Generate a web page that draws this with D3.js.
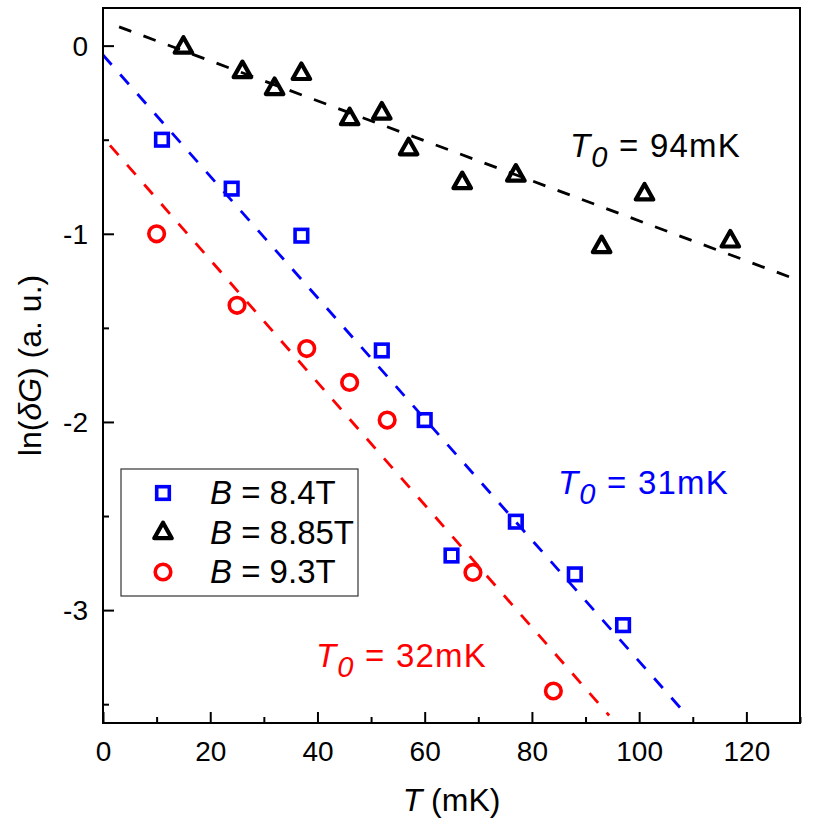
<!DOCTYPE html>
<html>
<head>
<meta charset="utf-8">
<script src="https://cdn.jsdelivr.net/npm/d3@7"></script>
<style>
  html, body { margin: 0; padding: 0; background: #fff; }
  svg { display: block; font-family: "Liberation Sans", Arial, sans-serif; }
</style>
</head>
<body>
<svg id="chart" width="830" height="830"></svg>
<script>
// ---- data ----
const tempSquare = [11, 24, 37, 52, 60, 65, 77, 88, 97];
const lnSquare   = [-0.50, -0.76, -1.01, -1.62, -1.99, -2.71, -2.53, -2.81, -3.08];

const tempTriangle = [15, 26, 32, 37, 46, 52, 57, 67, 77, 93, 101, 117];
const lnTriangle   = [-0.01, -0.14, -0.23, -0.15, -0.39, -0.36, -0.55, -0.73, -0.69, -1.07, -0.79, -1.04];

const tempCircle = [10, 25, 38, 46, 53, 69, 84];
const lnCircle   = [-1.00, -1.38, -1.61, -1.79, -1.99, -2.80, -3.43];

// fit lines: [T start, ln start, T end, ln end]
const fitSquare   = [0, -0.05, 108, -3.53];
const fitTriangle = [3, 0.10, 130, -1.25];
const fitCircle   = [1.3, -0.53, 94.4, -3.56];

const legendLabels = ["8.4T", "8.85T", "9.3T"];
const t0Labels = ["31mK", "94mK", "32mK"];

const xTicks = [0, 20, 40, 60, 80, 100, 120];
const yTicks = [0, -1, -2, -3];

// ---- layout ----
const svg = d3.select("#chart");
const L = 103, R = 800, T = 8, B = 723;
const x = d3.scaleLinear().domain([0, 130]).range([L, R]);
const y = d3.scaleLinear().domain([-3.6, 0.2]).range([B, T]);

const series = [
  { name: "square",   color: "#0000ff", xs: tempSquare,   ys: lnSquare,   fit: fitSquare },
  { name: "triangle", color: "#000000", xs: tempTriangle, ys: lnTriangle, fit: fitTriangle },
  { name: "circle",   color: "#ff0000", xs: tempCircle,   ys: lnCircle,   fit: fitCircle }
];

// fit lines
const line = d3.line().x(d => x(d[0])).y(d => y(d[1]));
series.forEach(s => {
  svg.append("path")
    .attr("d", line([[s.fit[0], s.fit[1]], [s.fit[2], s.fit[3]]]))
    .attr("fill", "none")
    .attr("stroke", s.color)
    .attr("stroke-width", 2.8)
    .attr("stroke-dasharray", "13,13");
});

// markers
function drawMarker(g, type, cx, cy, color) {
  if (type === "square") {
    g.append("rect").attr("x", cx - 6.3).attr("y", cy - 6.3).attr("width", 12.6).attr("height", 12.6)
      .attr("fill", "none").attr("stroke", color).attr("stroke-width", 3.6);
  } else if (type === "circle") {
    g.append("circle").attr("cx", cx).attr("cy", cy).attr("r", 7.8)
      .attr("fill", "none").attr("stroke", color).attr("stroke-width", 3.6);
  } else {
    const h = 15.5, w = 17.5;
    const p = `M${cx},${cy - 2 * h / 3} L${cx + w / 2},${cy + h / 3} L${cx - w / 2},${cy + h / 3} Z`;
    g.append("path").attr("d", p).attr("fill", "none").attr("stroke", color)
      .attr("stroke-width", 4.2).attr("stroke-linejoin", "round");
  }
}
const marks = svg.append("g");
series.forEach(s => {
  s.xs.forEach((t, i) => drawMarker(marks, s.name, x(t), y(s.ys[i]), s.color));
});

// axes frame
svg.append("rect").attr("x", L).attr("y", T).attr("width", R - L).attr("height", B - T)
  .attr("fill", "none").attr("stroke", "#000").attr("stroke-width", 2);

// x axis ticks (inward)
const xAxis = d3.axisBottom(x).tickValues(xTicks).tickSize(-11).tickFormat(d3.format("d"));
const gx = svg.append("g").attr("transform", `translate(0,${B})`).call(xAxis);
gx.select(".domain").remove();
gx.selectAll("line").attr("stroke-width", 2);
gx.selectAll("text").attr("font-size", 28).attr("fill", "#000").attr("dy", 0).attr("y", 38);
const xMinor = d3.axisBottom(x).tickValues(d3.range(10, 131, 20)).tickSize(-6).tickFormat("");
const gxm = svg.append("g").attr("transform", `translate(0,${B})`).call(xMinor);
gxm.select(".domain").remove();
gxm.selectAll("line").attr("stroke-width", 2);

const yAxis = d3.axisLeft(y).tickValues(yTicks).tickSize(-11).tickFormat(d => d === 0 ? "0" : String(d).replace("\u2212", "-"));
const gy = svg.append("g").attr("transform", `translate(${L},0)`).call(yAxis);
gy.select(".domain").remove();
gy.selectAll("line").attr("stroke-width", 2);
gy.selectAll("text").attr("font-size", 28).attr("fill", "#000").attr("dy", "0.35em").attr("x", -15);
const yMinor = d3.axisLeft(y).tickValues([-0.5, -1.5, -2.5, -3.5]).tickSize(-6).tickFormat("");
const gym = svg.append("g").attr("transform", `translate(${L},0)`).call(yMinor);
gym.select(".domain").remove();
gym.selectAll("line").attr("stroke-width", 2);

// axis titles
const xt = svg.append("text").attr("x", (L + R) / 2).attr("y", 811).attr("text-anchor", "middle")
  .attr("font-size", 32).attr("fill", "#000");
xt.append("tspan").attr("font-style", "italic").text("T");
xt.append("tspan").text(" (mK)");

const yt = svg.append("text").attr("transform", `translate(41,${(T + B) / 2}) rotate(-90)`)
  .attr("text-anchor", "middle").attr("font-size", 32).attr("fill", "#000");
yt.append("tspan").text("ln(");
yt.append("tspan").attr("font-style", "italic").text("\u03B4G");
yt.append("tspan").text(") (a. u.)");

// T0 annotations
function t0(xp, yp, color, label) {
  const t = svg.append("text").attr("x", xp).attr("y", yp).attr("font-size", 33)
    .attr("letter-spacing", 1.2).attr("fill", color);
  t.append("tspan").attr("font-style", "italic").text("T");
  t.append("tspan").attr("font-style", "italic").attr("font-size", 29).attr("dy", 10).text("0");
  t.append("tspan").attr("dy", -10).text(" = " + label);
}
t0(570, 157, "#000000", t0Labels[1]);
t0(558, 494, "#0000ff", t0Labels[0]);
t0(316, 667, "#ff0000", t0Labels[2]);

// legend
svg.append("rect").attr("x", 121).attr("y", 469).attr("width", 237).attr("height", 127)
  .attr("fill", "#fff").attr("stroke", "#333").attr("stroke-width", 1.2);
const legY = [493, 533, 572];
series.forEach((s, i) => {
  drawMarker(svg, s.name, 163, legY[i], s.color);
  const t = svg.append("text").attr("x", 210).attr("y", legY[i] + 11).attr("font-size", 33)
    .attr("fill", "#000");
  t.append("tspan").attr("font-style", "italic").text("B");
  t.append("tspan").text(" = " + legendLabels[i]);
});
</script>
</body>
</html>
